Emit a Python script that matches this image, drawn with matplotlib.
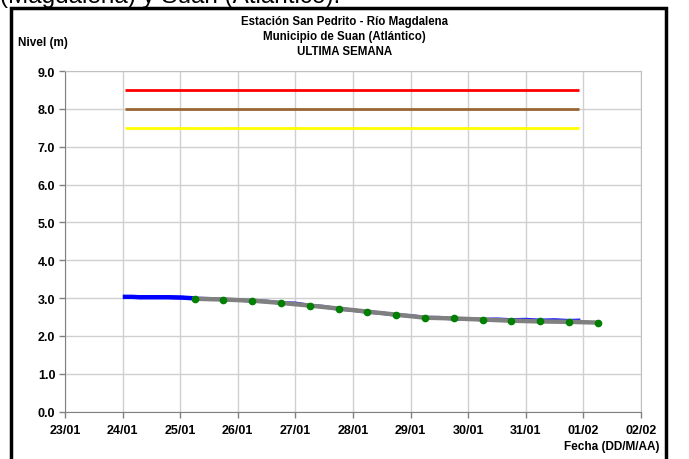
import matplotlib
matplotlib.use('Agg')
import matplotlib.pyplot as plt
import matplotlib.dates as mdates
import pandas as pd
from matplotlib.patches import Rectangle

plt.rcParams['font.family'] = ['Liberation Sans', 'DejaVu Sans']

# lecturas de nivel (m) - linea azul, cada 6 horas aprox.
blue_times = ['2024-01-24 01:00', '2024-01-24 04:00', '2024-01-24 07:00', '2024-01-24 13:00',
              '2024-01-24 19:00', '2024-01-25 01:00', '2024-01-25 06:00', '2024-01-25 12:00',
              '2024-01-25 18:00', '2024-01-26 00:00', '2024-01-26 06:00', '2024-01-26 12:00',
              '2024-01-26 18:00', '2024-01-27 00:00', '2024-01-27 06:00', '2024-01-27 12:00',
              '2024-01-27 18:00', '2024-01-28 00:00', '2024-01-28 06:00', '2024-01-28 12:00',
              '2024-01-28 18:00', '2024-01-29 00:00', '2024-01-29 06:00', '2024-01-29 12:00',
              '2024-01-29 18:00', '2024-01-30 00:00', '2024-01-30 06:00', '2024-01-30 12:00',
              '2024-01-30 18:00', '2024-01-31 00:00', '2024-01-31 06:00', '2024-01-31 12:00',
              '2024-01-31 18:00', '2024-01-31 22:00']
blue_vals = [3.03, 3.03, 3.02, 3.02, 3.02, 3.01, 2.99, 2.98, 2.96, 2.95, 2.92, 2.91,
             2.87, 2.86, 2.80, 2.77, 2.71, 2.68, 2.63, 2.60, 2.55, 2.53, 2.48, 2.48,
             2.45, 2.45, 2.43, 2.44, 2.42, 2.43, 2.41, 2.42, 2.40, 2.41]

# lecturas cada 12 horas - linea gris con puntos verdes
gray_times = pd.date_range('2024-01-25 06:00', '2024-02-01 06:00', freq='12h')
gray_vals = [2.98, 2.96, 2.93, 2.87, 2.80, 2.72, 2.64, 2.56,
             2.48, 2.46, 2.43, 2.40, 2.38, 2.37, 2.35]

# umbrales
umbral_start = '2024-01-24 01:00'
umbral_end = '2024-01-31 22:00'
umbrales = [8.5, 8.0, 7.5]
umbral_colors = ['#ff0000', '#996633', '#ffff00']

yticks = [0.0, 1.0, 2.0, 3.0, 4.0, 5.0, 6.0, 7.0, 8.0, 9.0]

fig = plt.figure(figsize=(6.89, 4.60), dpi=100)
ax = fig.add_axes([65 / 689, 1 - 412.5 / 460, 576 / 689, 340.5 / 460])

t0 = pd.Timestamp(umbral_start)
t1 = pd.Timestamp(umbral_end)
for val, col in zip(umbrales, umbral_colors):
    ax.plot([t0, t1], [val, val], color=col, lw=2, solid_capstyle='butt', zorder=3)

bt = pd.to_datetime(blue_times)
ax.plot(bt[:7], blue_vals[:7], color='#0000ff', lw=3.2, zorder=3)
ax.plot(bt, blue_vals, color='#0000ff', lw=2.6, alpha=0.85, zorder=3)
ax.plot(gray_times, gray_vals, color='#808080', lw=3.2, zorder=4)
ax.plot(gray_times, gray_vals, 'o', color='#008000', ms=4.5, zorder=5)

ax.set_xlim(pd.Timestamp('2024-01-23'), pd.Timestamp('2024-02-02'))
ax.set_ylim(0, 9)
ax.set_yticks(yticks)
ax.yaxis.set_major_formatter(plt.FormatStrFormatter('%.1f'))
ax.xaxis.set_major_locator(mdates.DayLocator())
ax.xaxis.set_major_formatter(mdates.DateFormatter('%d/%m'))
ax.grid(True, color='#d0d0d0', lw=1)
ax.set_axisbelow(True)
for s in ['top', 'right']:
    ax.spines[s].set_color('#c0c0c0')
for s in ['left', 'bottom']:
    ax.spines[s].set_color('#808080')
ax.tick_params(axis='both', length=4, width=1, color='#808080', labelsize=9, pad=3)
for lab in ax.get_xticklabels() + ax.get_yticklabels():
    lab.set_fontweight('bold')
ax.tick_params(axis='x', pad=5)

fig.text(0.5, 1 - 22 / 460, 'Estación San Pedrito - Río Magdalena', ha='center', va='center',
         fontsize=8.3, fontweight='bold')
fig.text(0.5, 1 - 37 / 460, 'Municipio de Suan (Atlántico)', ha='center', va='center',
         fontsize=8.3, fontweight='bold')
fig.text(0.5, 1 - 52 / 460, 'ULTIMA SEMANA', ha='center', va='center',
         fontsize=8.3, fontweight='bold')
fig.text(18 / 689, 1 - 43 / 460, 'Nivel (m)', ha='left', va='center',
         fontsize=8.5, fontweight='bold')
fig.text(659 / 689, 1 - 447 / 460, 'Fecha (DD/M/AA)', ha='right', va='center',
         fontsize=8.5, fontweight='bold')

# texto del documento, cortado arriba
fig.text(0.0, 1 - 3 / 460, '(Magdalena) y Suan (Atlántico).', ha='left', va='baseline',
         fontsize=17.5)

fig.patches.append(Rectangle((11 / 689, -0.05), 655 / 689, 1.05 - 9 / 460,
                             transform=fig.transFigure, fill=False, ec='black', lw=2.5))

fig.savefig('out.png', dpi=100)
